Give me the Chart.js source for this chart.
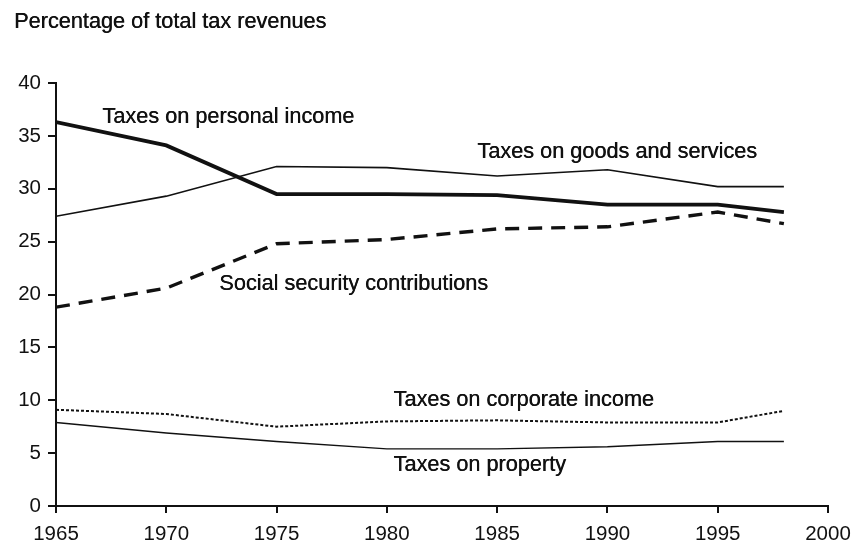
<!DOCTYPE html>
<html>
<head>
<meta charset="utf-8">
<script src="https://cdn.jsdelivr.net/npm/chart.js@4/dist/chart.umd.min.js"></script>
<style>
  html, body { margin: 0; padding: 0; background: #fff; }
  #wrap { width: 856px; height: 550px; position: relative; }
</style>
</head>
<body>
<div id="wrap"><canvas id="c" width="856" height="550"></canvas></div>
<script>
const years = [1965, 1970, 1975, 1980, 1985, 1990, 1995, 1998];
const personalIncome = [36.3, 34.1, 29.5, 29.5, 29.4, 28.5, 28.5, 27.8];
const goodsServices = [27.4, 29.3, 32.1, 32.0, 31.2, 31.8, 30.2, 30.2];
const socialSecurity = [18.8, 20.6, 24.8, 25.2, 26.2, 26.4, 27.8, 26.7];
const corporateIncome = [9.1, 8.7, 7.5, 8.0, 8.1, 7.9, 7.9, 9.0];
const property = [7.9, 6.9, 6.1, 5.4, 5.4, 5.6, 6.1, 6.1];

const seriesNames = ['Taxes on personal income', 'Taxes on goods and services', 'Social security contributions', 'Taxes on corporate income', 'Taxes on property'];
// label anchor positions (data coordinates: year, value)
const labelYears = [1967.1, 1984.1, 1972.4, 1980.3, 1980.3];
const labelValues = [36.8, 33.5, 21.0, 10.0, 3.9];

const yTicks = [0, 5, 10, 15, 20, 25, 30, 35, 40];
const xTicks = [1965, 1970, 1975, 1980, 1985, 1990, 1995, 2000];
const titleText = 'Percentage of total tax revenues';

const FONT = '"Liberation Sans", Arial, Helvetica, sans-serif';
const INK = '#111111';

function pts(vals) { return years.map((y, i) => ({ x: y, y: vals[i] })); }

const labelPlugin = {
  id: 'labels',
  afterDatasetsDraw(chart) {
    const ctx = chart.ctx;
    const xs = chart.scales.x, ys = chart.scales.y;
    ctx.save();
    ctx.fillStyle = INK;
    ctx.font = '21.7px ' + FONT;
    ctx.textBaseline = 'middle';
    ctx.textAlign = 'left';
    seriesNames.forEach((n, i) => {
      const px = xs.getPixelForValue(labelYears[i]), py = ys.getPixelForValue(labelValues[i]);
      ctx.fillText(n, px, py);
      ctx.fillText(n, px + 0.4, py);
    });
    ctx.fillText(titleText, 14, 22);
    ctx.fillText(titleText, 14.4, 22);
    ctx.restore();
  }
};

new Chart(document.getElementById('c'), {
  type: 'line',
  data: {
    datasets: [
      { label: seriesNames[0], data: pts(personalIncome), borderColor: INK, borderWidth: 3.8, pointRadius: 0, tension: 0 },
      { label: seriesNames[1], data: pts(goodsServices), borderColor: INK, borderWidth: 1.6, pointRadius: 0, tension: 0 },
      { label: seriesNames[2], data: pts(socialSecurity), borderColor: INK, borderWidth: 3.4, borderDash: [14, 9], pointRadius: 0, tension: 0 },
      { label: seriesNames[3], data: pts(corporateIncome), borderColor: INK, borderWidth: 2, borderDash: [3, 2], pointRadius: 0, tension: 0 },
      { label: seriesNames[4], data: pts(property), borderColor: INK, borderWidth: 1.4, pointRadius: 0, tension: 0 }
    ]
  },
  options: {
    responsive: false,
    animation: false,
    layout: { padding: { top: 83, right: 28, left: 0, bottom: 0 } },
    plugins: { legend: { display: false }, tooltip: { enabled: false }, title: { display: false } },
    scales: {
      x: {
        type: 'linear', min: 1965, max: 2000,
        afterBuildTicks(s) { s.ticks = xTicks.map(v => ({ value: v })); },
        afterFit(s) { s.height = 44; s.paddingRight = 0; s.paddingLeft = 0; },
        border: { display: true, color: INK, width: 2 },
        grid: { display: true, drawOnChartArea: false, drawTicks: true, tickLength: 7, color: INK, lineWidth: 2 },
        ticks: { color: INK, font: { family: FONT, size: 20.5 }, padding: 9, callback: v => String(v), maxRotation: 0, autoSkip: false }
      },
      y: {
        min: 0, max: 40,
        afterBuildTicks(s) { s.ticks = yTicks.map(v => ({ value: v })); },
        afterFit(s) { s.width = 56; },
        border: { display: true, color: INK, width: 2 },
        grid: { display: true, drawOnChartArea: false, drawTicks: true, tickLength: 8, color: INK, lineWidth: 2 },
        ticks: { color: INK, font: { family: FONT, size: 20.5 }, padding: 7, callback: v => String(v) }
      }
    }
  },
  plugins: [labelPlugin]
});
</script>
</body>
</html>
